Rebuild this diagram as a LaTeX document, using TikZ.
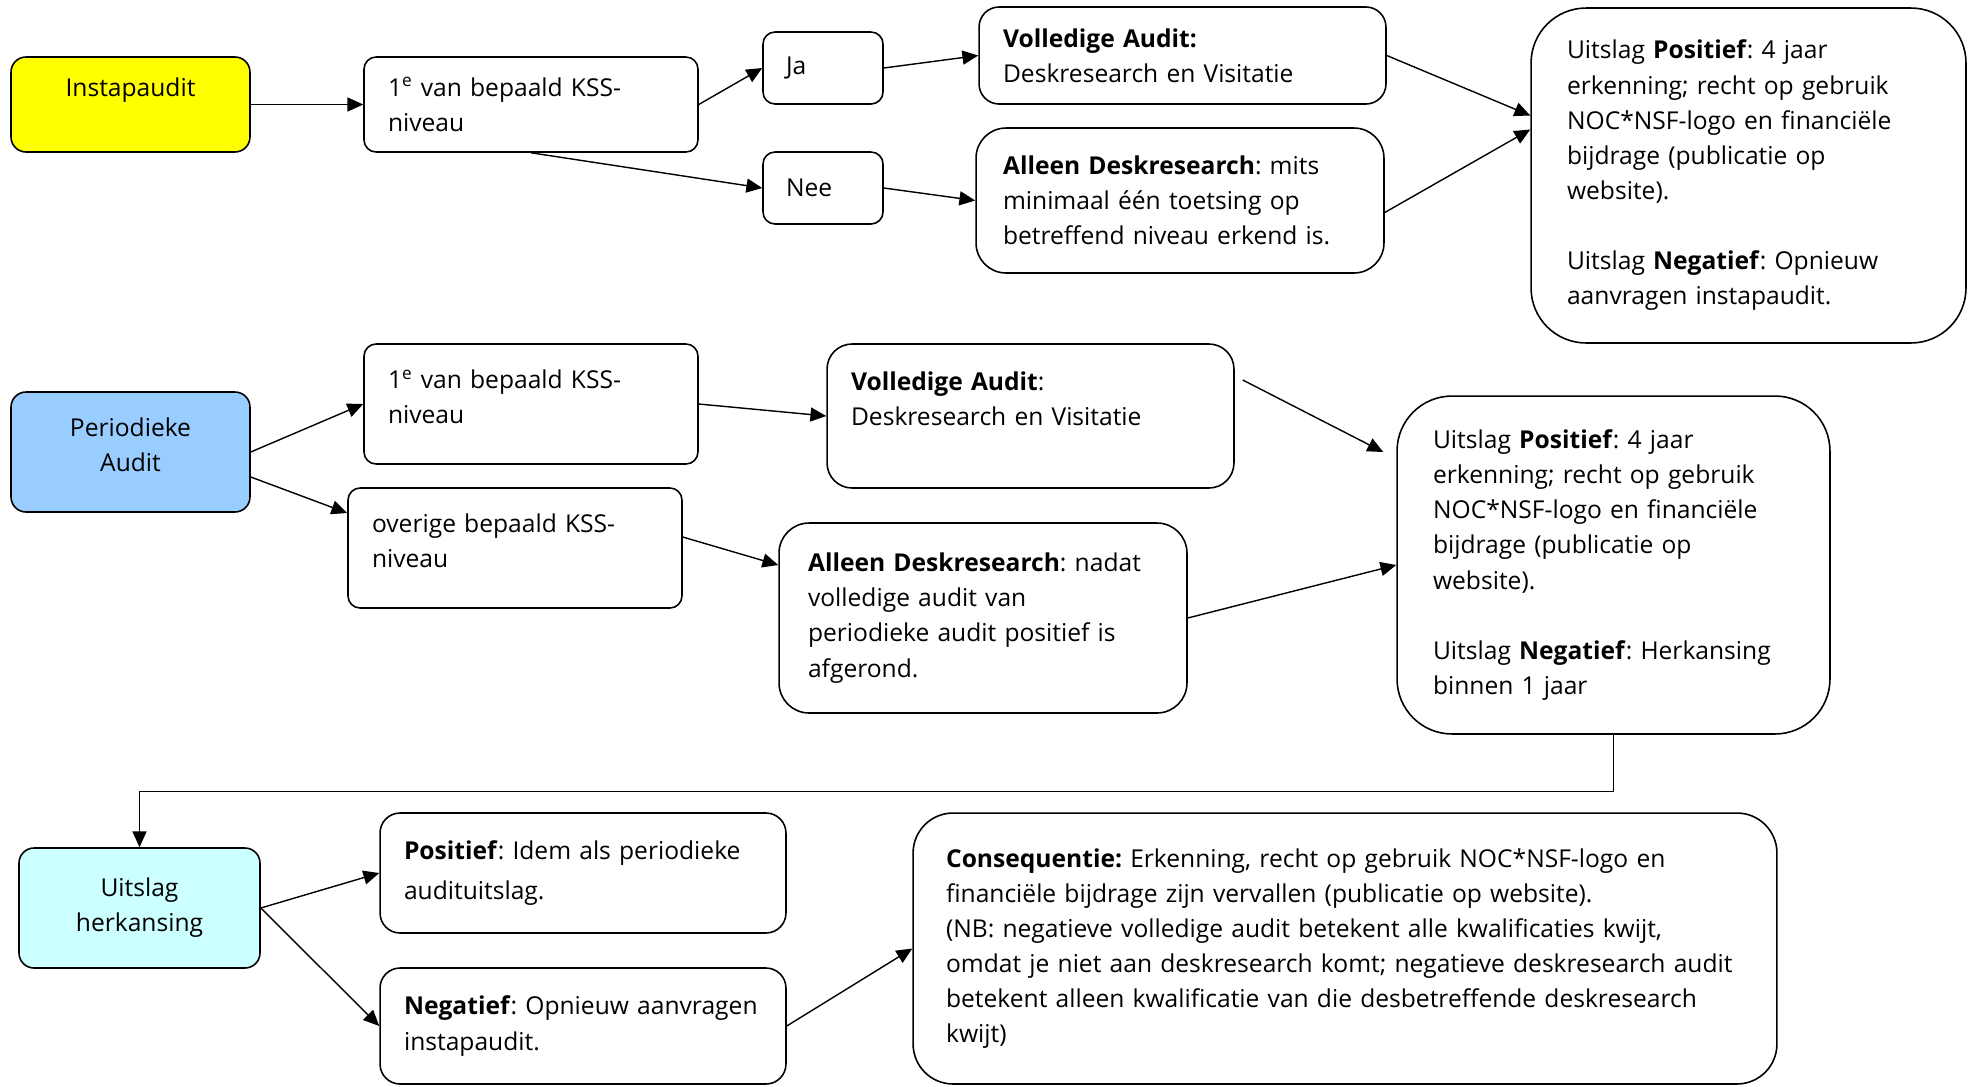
\documentclass[tikz,border=0pt]{standalone}
\usepackage{fontspec}
\setmainfont{Open Sans}
\usetikzlibrary{arrows.meta}
\definecolor{geel}{HTML}{FFFF00}
\definecolor{blauw}{HTML}{99CCFF}
\definecolor{lichtblauw}{HTML}{CCFFFF}
\frenchspacing

\begin{document}
\begin{tikzpicture}[x=0.02cm, y=-0.02cm, >={Triangle[length=9pt,width=8pt]},
    stap/.style={draw=black,line width=0.9pt,rounded corners=0.24cm,align=left,
      inner xsep=0.48cm,inner ysep=0.1cm,font=\fontsize{14}{20}\selectfont},
    kop/.style={stap,align=center,rounded corners=0.3cm},
    pijl/.style={->,line width=0.8pt}]
  \useasboundingbox (0,0) rectangle (1973,1086);
  % instapaudit
  \node[kop,fill=geel,text width=3.82cm,minimum height=1.9cm] (insta) at (130.5,104.5) {Instapaudit\\\mbox{}};
  \node[stap,text width=5.72cm,minimum height=1.9cm] (kss1) at (531,104.5) {1\textsuperscript{e} van bepaald KSS-\\niveau};
  \node[stap,inner xsep=0.46cm,text width=1.48cm,minimum height=1.44cm] (ja) at (823,68) {Ja};
  \node[stap,inner xsep=0.46cm,text width=1.48cm,minimum height=1.44cm] (nee) at (823,188) {Nee};
  \node[stap,rounded corners=0.4cm,text width=7.18cm,minimum height=1.94cm] (vol1) at (1182.5,55.5)
    {\textbf{Volledige Audit:}\\Deskresearch en Visitatie};
  \node[stap,rounded corners=0.6cm,inner xsep=0.54cm,text width=7.08cm,minimum height=2.9cm] (des1) at (1180,200.5)
    {\textbf{Alleen Deskresearch}: mits\\minimaal één toetsing op\\betreffend niveau erkend is.};
  \node[stap,rounded corners=1.1cm,inner xsep=0.72cm,text width=7.26cm,minimum height=6.7cm] (res1) at (1748.5,175.5)
    {Uitslag \textbf{Positief}: 4 jaar\\erkenning; recht op gebruik\\NOC*NSF-logo en financiële\\bijdrage (publicatie op\\website).\\[20pt]
     Uitslag \textbf{Negatief}: Opnieuw\\aanvragen instapaudit.};
  \draw[pijl] (insta) -- (kss1);
  \draw[pijl] (kss1.east) -- (ja.west);
  \draw[pijl] (kss1.south) -- (nee.west);
  \draw[pijl] (ja.east) -- (vol1.west);
  \draw[pijl] (nee.east) -- (des1.west);
  \draw[pijl] (vol1.east) -- ([yshift=1.2cm]res1.west);
  \draw[pijl] ([yshift=-0.24cm]des1.east) -- ([yshift=0.92cm]res1.west);
  % periodieke audit
  \node[kop,fill=blauw,text width=3.82cm,minimum height=2.4cm] (per) at (130.5,452) {Periodieke\\Audit\\[-12pt]\mbox{}};
  \node[stap,text width=5.72cm,minimum height=2.4cm] (kss2) at (531,404) {1\textsuperscript{e} van bepaald KSS-\\niveau\\[-12pt]\mbox{}};
  \node[stap,text width=5.72cm,minimum height=2.4cm] (ove) at (515,548) {overige bepaald KSS-\\niveau\\[-12pt]\mbox{}};
  \node[stap,rounded corners=0.5cm,text width=7.18cm,minimum height=2.88cm] (vol2) at (1030.5,416)
    {\textbf{Volledige Audit}:\\Deskresearch en Visitatie\\\mbox{}};
  \node[stap,rounded corners=0.6cm,inner xsep=0.58cm,text width=7.0cm,minimum height=3.8cm] (des2) at (983,618)
    {\textbf{Alleen Deskresearch}: nadat\\volledige audit van\\periodieke audit positief is\\afgerond.};
  \node[stap,rounded corners=1.1cm,inner xsep=0.72cm,text width=7.22cm,minimum height=6.76cm] (res2) at (1613.5,565)
    {Uitslag \textbf{Positief}: 4 jaar\\erkenning; recht op gebruik\\NOC*NSF-logo en financiële\\bijdrage (publicatie op\\website).\\[20pt]
     Uitslag \textbf{Negatief}: Herkansing\\binnen 1 jaar};
  \draw[pijl] (per.east) -- (kss2.west);
  \draw[pijl] ([yshift=-0.5cm]per.east) -- ([yshift=0.7cm]ove.west);
  \draw[pijl] (kss2.east) -- (vol2.west);
  \draw[pijl] ([yshift=0.22cm]ove.east) -- ([yshift=1.06cm]des2.west);
  \draw[pijl] ([xshift=0.16cm,yshift=0.72cm]vol2.east) -- ([xshift=-0.26cm,yshift=2.26cm]res2.west);
  \draw[pijl] (des2.east) -- (res2.west);
  % herkansing
  \node[kop,fill=lichtblauw,text width=3.86cm,minimum height=2.4cm] (her) at (139.5,908) {Uitslag\\herkansing};
  \node[stap,rounded corners=0.4cm,text width=7.16cm,minimum height=2.4cm] (pos) at (583,873)
    {\textbf{Positief}: Idem als periodieke\\[3pt]audituitslag.};
  \node[stap,rounded corners=0.4cm,text width=7.16cm,minimum height=2.32cm] (neg) at (583,1026)
    {\textbf{Negatief}: Opnieuw aanvragen\\instapaudit.};
  \node[stap,rounded corners=0.8cm,inner xsep=0.66cm,text width=15.96cm,minimum height=5.42cm] (con) at (1345,948.5)
    {\textbf{Consequentie:} Erkenning, recht op gebruik NOC*NSF-logo en\\financiële bijdrage zijn vervallen (publicatie op website).\\
     (NB: negatieve volledige audit betekent alle kwalificaties kwijt,\\omdat je niet aan deskresearch komt; negatieve deskresearch audit\\
     betekent alleen kwalificatie van die desbetreffende deskresearch\\kwijt)};
  \draw[pijl] (res2.south) -- ++(0,57) -| (her.north);
  \draw[pijl] (her.east) -- (pos.west);
  \draw[pijl] (her.east) -- (neg.west);
  \draw[pijl] (neg.east) -- (con.west);
\end{tikzpicture}
\end{document}
